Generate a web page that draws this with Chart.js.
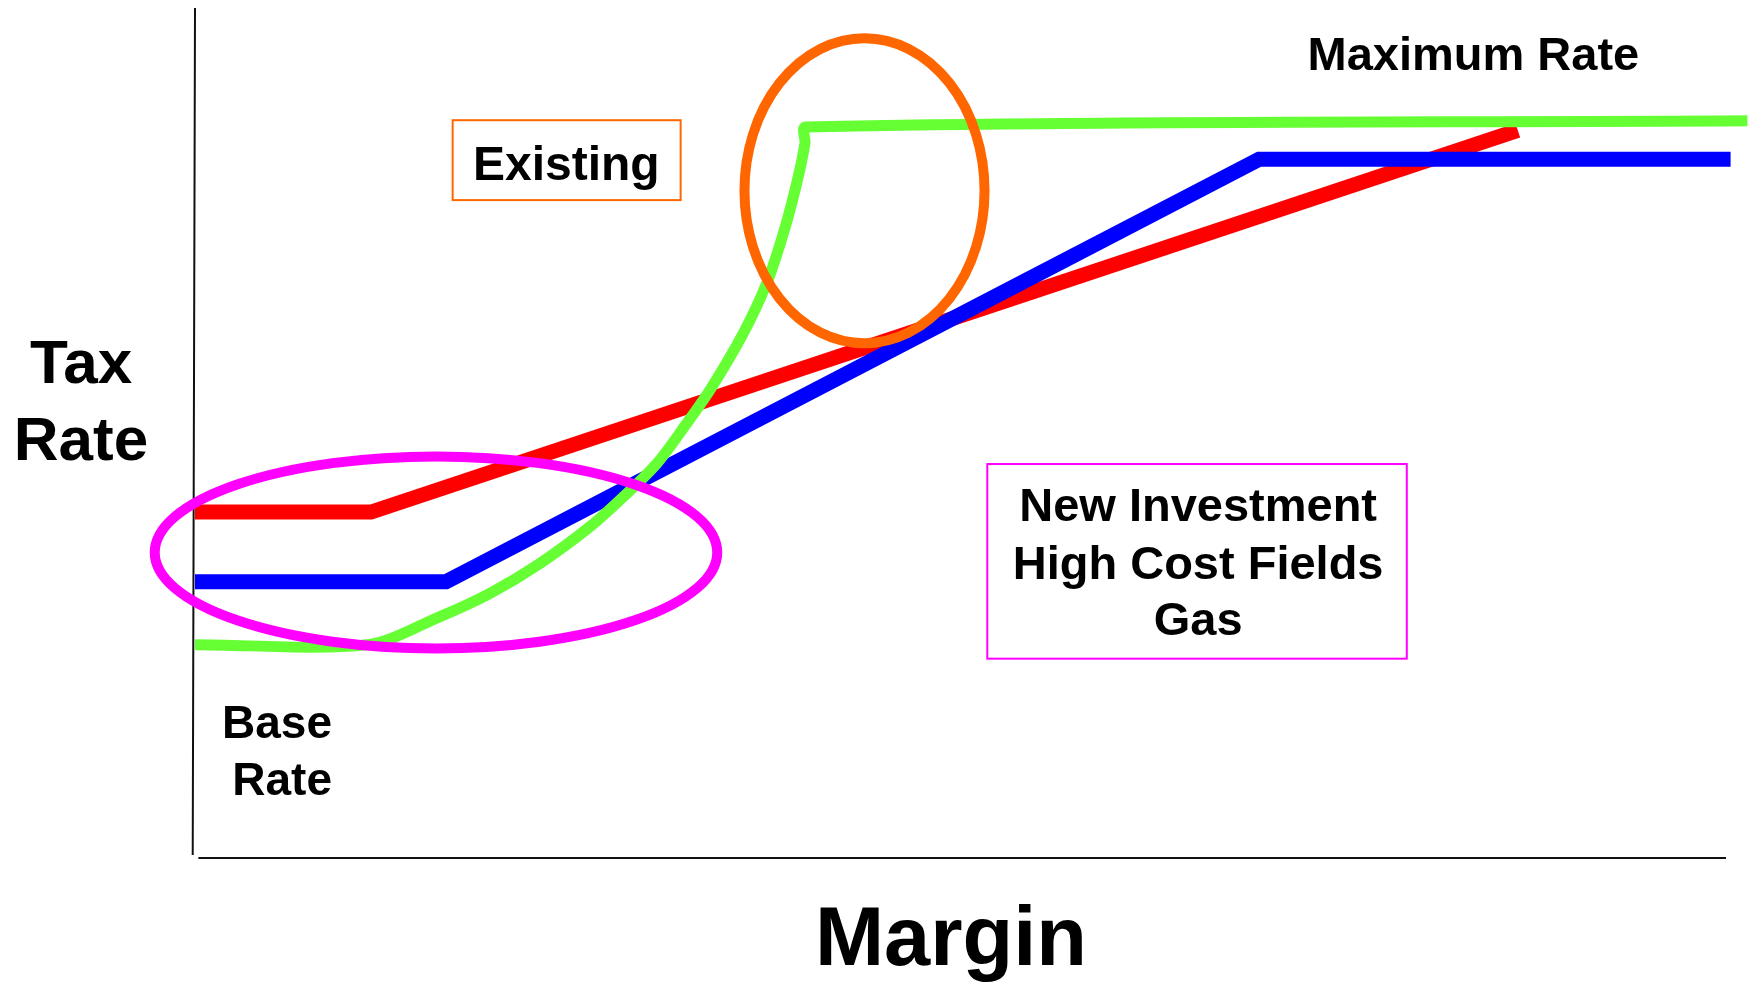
<!DOCTYPE html>
<html>
<head>
<meta charset="utf-8">
<title>Tax Rate vs Margin</title>
<script src="https://cdn.jsdelivr.net/npm/chart.js@4.4.1/dist/chart.umd.min.js"></script>
<style>
    html, body { margin: 0; padding: 0; background: #ffffff; overflow: hidden; }
    #wrap { width: 1749px; height: 989px; position: relative; }
    #taxChart { display: block; }
</style>
</head>
<body>
<div id="wrap"><canvas id="taxChart" width="1749" height="989"></canvas></div>
<script>
// margin on x, tax rate on y, both read on a 0-100 scale
const existingMargin = [0, 11.5, 86.4];
const existingRate = [40.7, 40.7, 85.6];

const newInvMargin = [0, 16.4, 69.5, 100.3];
const newInvRate = [32.5, 32.5, 82.2, 82.2];

const gasMargin = [0, 11.3, 16.0, 19.27, 22.54, 25.8, 27.98, 30.16, 32.12, 33.66, 35.81, 37.34, 38.43, 39.3, 39.84, 39.89, 101.4];
const gasRate = [25.1, 25.1, 28.4, 31.14, 34.67, 38.98, 42.5, 46.4, 51.14, 55.14, 61.73, 67.61, 73.49, 79.37, 84.08, 86.0, 86.74];

const FONT = "'Liberation Sans', Arial, Helvetica, sans-serif";

function toPoints(xs, ys) {
    return xs.map((x, i) => ({ x: x, y: ys[i] }));
}

// circles drawn over the curves (center and radii in axis units)
const rings = [
    { cx: 15.74, cy: 35.95, rx: 18.37, ry: 11.3, color: "#FF00FF", width: 10 },
    { cx: 43.73, cy: 78.5, rx: 7.84, ry: 17.94, color: "#FF6600", width: 10 }
];

// text boxes and labels inside the plot (axis units)
const notes = [
    { lines: ["Existing"], x: 24.25, y: [79.8], size: 48, align: "center", box: [16.83, 86.8, 31.72, 77.4], border: "#FF6600" },
    { lines: ["Maximum Rate"], x: 83.5, y: [92.7], size: 47, align: "center" },
    { lines: ["New Investment", "High Cost Fields", "Gas"], x: 65.52, y: [39.6, 32.8, 26.25], size: 47, align: "center", box: [51.75, 46.35, 79.15, 23.45], border: "#FF00FF" },
    { lines: ["Base", "Rate"], x: 8.95, y: [14.1, 7.4], size: 46, align: "right" }
];

const annotations = {
    id: "annotations",
    afterDatasetsDraw(chart) {
        const { ctx, scales: { x, y } } = chart;
        ctx.save();

        // axes
        ctx.strokeStyle = "#111111";
        ctx.lineWidth = 2;
        ctx.beginPath();
        ctx.moveTo(x.getPixelForValue(0), y.getPixelForValue(100));
        ctx.lineTo(x.getPixelForValue(-0.15), y.getPixelForValue(0.35));
        ctx.moveTo(x.getPixelForValue(0.22), y.getPixelForValue(0));
        ctx.lineTo(x.getPixelForValue(100), y.getPixelForValue(0));
        ctx.stroke();

        rings.forEach(r => {
            const cx = x.getPixelForValue(r.cx);
            const cy = y.getPixelForValue(r.cy);
            const rx = Math.abs(x.getPixelForValue(r.cx + r.rx) - cx);
            const ry = Math.abs(y.getPixelForValue(r.cy + r.ry) - cy);
            ctx.strokeStyle = r.color;
            ctx.lineWidth = r.width;
            ctx.beginPath();
            ctx.ellipse(cx, cy, rx, ry, 0, 0, Math.PI * 2);
            ctx.stroke();
        });

        ctx.fillStyle = "#000000";
        ctx.textBaseline = "alphabetic";
        notes.forEach(n => {
            if (n.box) {
                const x1 = x.getPixelForValue(n.box[0]);
                const y1 = y.getPixelForValue(n.box[1]);
                const x2 = x.getPixelForValue(n.box[2]);
                const y2 = y.getPixelForValue(n.box[3]);
                ctx.strokeStyle = n.border;
                ctx.lineWidth = 2;
                ctx.strokeRect(x1, y1, x2 - x1, y2 - y1);
            }
            ctx.font = "bold " + n.size + "px " + FONT;
            ctx.textAlign = n.align;
            n.lines.forEach((line, i) => {
                ctx.fillText(line, x.getPixelForValue(n.x), y.getPixelForValue(n.y[i]));
            });
        });

        // axis titles, outside the plot area
        const area = chart.chartArea;
        ctx.textAlign = "center";
        ctx.font = "bold 62px " + FONT;
        ctx.fillText("Tax", area.left - 114, 383);
        ctx.fillText("Rate", area.left - 114, 460);
        ctx.font = "bold 83px " + FONT;
        ctx.fillText("Margin", 951, 965);

        ctx.restore();
    }
};

const ctx = document.getElementById("taxChart").getContext("2d");

new Chart(ctx, {
    type: "scatter",
    data: {
        datasets: [
            {
                label: "Gas",
                data: toPoints(gasMargin, gasRate),
                showLine: true,
                borderColor: "#66FF33",
                borderWidth: 11,
                tension: 0.3,
                pointRadius: 0,
                clip: false
            },
            {
                label: "New Investment",
                data: toPoints(newInvMargin, newInvRate),
                showLine: true,
                borderColor: "#0000FF",
                borderWidth: 15,
                borderJoinStyle: "miter",
                tension: 0,
                pointRadius: 0,
                clip: false
            },
            {
                label: "Existing",
                data: toPoints(existingMargin, existingRate),
                showLine: true,
                borderColor: "#FF0000",
                borderWidth: 15,
                borderJoinStyle: "miter",
                tension: 0,
                pointRadius: 0,
                clip: false
            }
        ]
    },
    options: {
        responsive: false,
        animation: false,
        devicePixelRatio: 1,
        layout: {
            padding: { left: 195, right: 23, top: 8, bottom: 131 }
        },
        plugins: {
            legend: { display: false },
            tooltip: { enabled: false }
        },
        scales: {
            x: { type: "linear", min: 0, max: 100, display: false },
            y: { type: "linear", min: 0, max: 100, display: false }
        }
    },
    plugins: [annotations]
});
</script>
</body>
</html>
